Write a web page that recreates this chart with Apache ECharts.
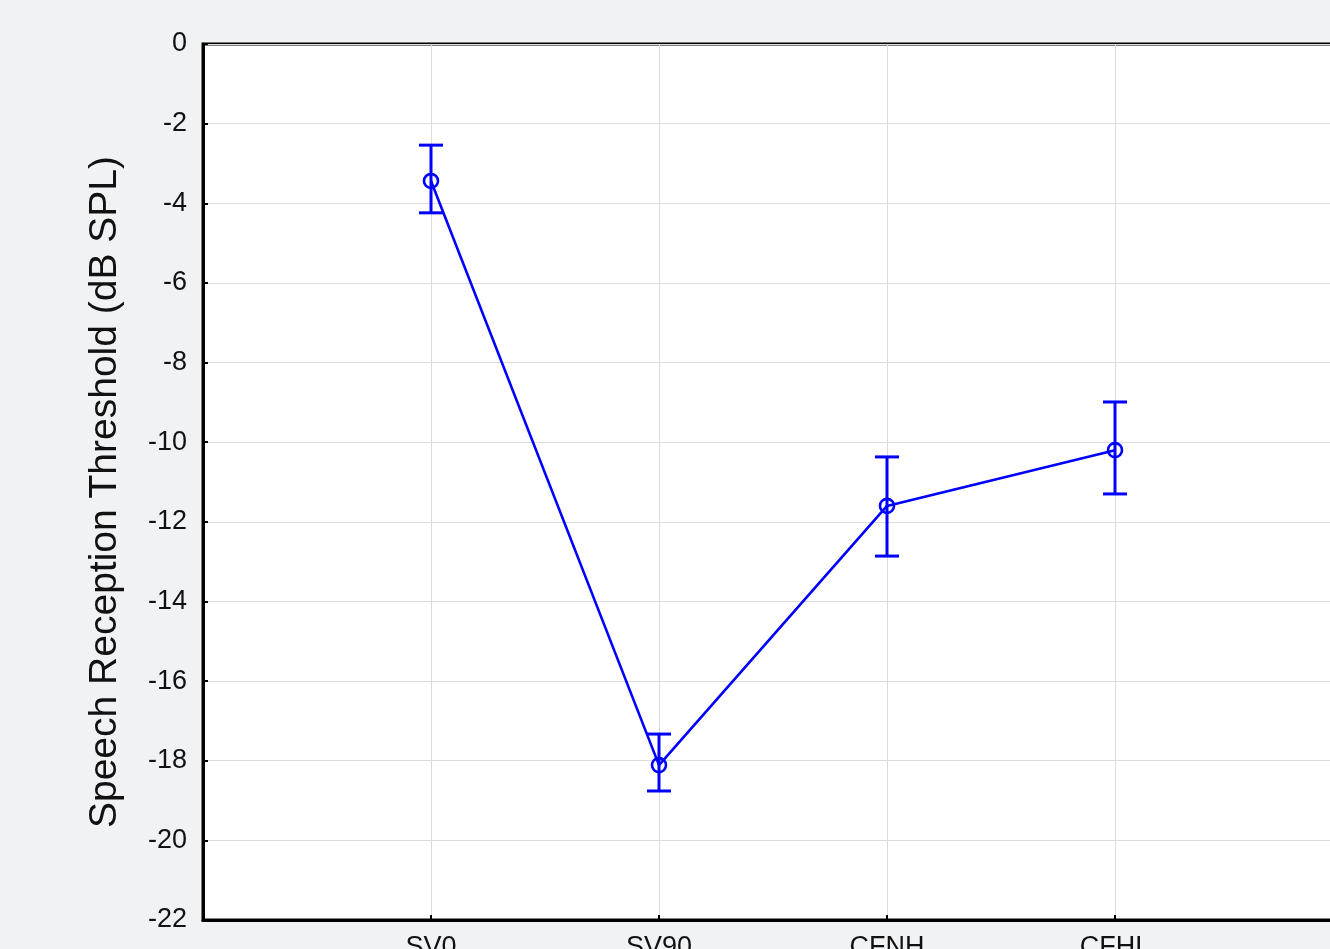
<!DOCTYPE html>
<html>
<head>
<meta charset="utf-8">
<title>Speech Reception Threshold</title>
<script src="https://cdn.jsdelivr.net/npm/echarts@6/dist/echarts.min.js"></script>
<style>
  html, body { margin: 0; padding: 0; background: #f1f2f4; }
  #chart { width: 1330px; height: 949px; }
</style>
</head>
<body>
<div id="chart"></div>
<script>
// Listening conditions along the x axis
const conditions = ['SV0', 'SV90', 'CFNH', 'CFHL'];
// Mean SRT per condition (dB SPL)
const meanSrt = [-3.44, -18.11, -11.60, -10.20];
// Error bar limits
const upperSrt = [-2.54, -17.33, -10.37, -8.99];
const lowerSrt = [-4.24, -18.76, -12.86, -11.30];
// Y axis ticks
const yMin = -22, yMax = 0, yStep = 2;

const lineData = conditions.map((c, i) => [i + 1, meanSrt[i]]);
const errData = conditions.map((c, i) => [i + 1, lowerSrt[i], upperSrt[i]]);

const blue = '#0000ff';
const font = 'Liberation Sans, Arial, sans-serif';
const chart = echarts.init(document.getElementById('chart'), null, { renderer: 'canvas' });

chart.setOption({
  backgroundColor: '#f1f2f4',
  animation: false,
  grid: {
    left: 203, top: 44, right: -13, bottom: 29,
    containLabel: false, outerBoundsMode: 'none',
    show: true, backgroundColor: '#ffffff',
    borderColor: '#000000', borderWidth: 3
  },
  xAxis: {
    type: 'value', min: 0, max: 5, interval: 1,
    axisLine: { show: true, onZero: false, lineStyle: { color: '#000', width: 3 } },
    axisTick: { show: true, inside: true, length: 5, lineStyle: { color: '#000', width: 2 } },
    splitLine: { show: true, lineStyle: { color: '#dcdcdc', width: 1 } },
    axisLabel: {
      margin: 14, fontSize: 27, color: '#111', fontFamily: font,
      formatter: v => conditions[v - 1] || ''
    }
  },
  yAxis: {
    type: 'value', min: yMin, max: yMax, interval: yStep,
    name: 'Speech Reception Threshold (dB SPL)',
    nameLocation: 'middle', nameGap: 78, nameRotate: 90,
    nameTextStyle: { fontSize: 39, color: '#111', fontFamily: font, padding: [0, 20, 0, 0] },
    axisLine: { show: true, onZero: false, lineStyle: { color: '#000', width: 3 } },
    axisTick: { show: true, inside: true, length: 5, lineStyle: { color: '#000', width: 2 } },
    splitLine: { show: true, lineStyle: { color: '#dcdcdc', width: 1 } },
    axisLabel: { margin: 16, fontSize: 27, color: '#111', fontFamily: font }
  },
  series: [
    {
      type: 'custom',
      name: 'error',
      data: errData,
      z: 3,
      renderItem: function (params, api) {
        const x = api.value(0);
        const lo = api.coord([x, api.value(1)]);
        const hi = api.coord([x, api.value(2)]);
        const hw = 12;
        const style = { stroke: blue, lineWidth: 3, fill: null };
        return {
          type: 'group',
          children: [
            { type: 'line', shape: { x1: lo[0], y1: lo[1], x2: hi[0], y2: hi[1] }, style: style },
            { type: 'line', shape: { x1: hi[0] - hw, y1: hi[1], x2: hi[0] + hw, y2: hi[1] }, style: style },
            { type: 'line', shape: { x1: lo[0] - hw, y1: lo[1], x2: lo[0] + hw, y2: lo[1] }, style: style }
          ]
        };
      }
    },
    {
      type: 'line',
      name: 'SRT',
      data: lineData,
      z: 4,
      symbol: 'circle', symbolSize: 14,
      showAllSymbol: true,
      lineStyle: { color: blue, width: 2.6 },
      itemStyle: { color: 'rgba(255,255,255,0)', borderColor: blue, borderWidth: 2.6 }
    }
  ]
});
</script>
</body>
</html>
